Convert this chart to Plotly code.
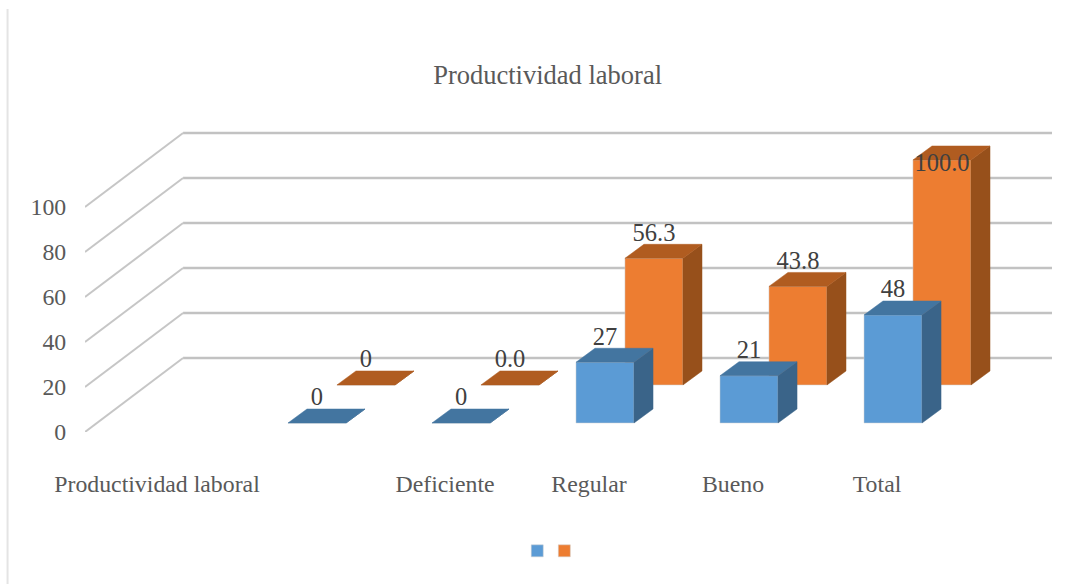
import plotly.graph_objects as go

title = "Productividad laboral"
categories = ["Productividad laboral", "", "Deficiente", "Regular", "Bueno", "Total"]
blue_values = [None, 0, 0, 27, 21, 48]
orange_values = [None, 0, 0, 56.3, 43.8, 100.0]
blue_labels = ["", "0", "0", "27", "21", "48"]
orange_labels = ["", "0", "0.0", "56.3", "43.8", "100.0"]
y_ticks = [0, 20, 40, 60, 80, 100]

# oblique projection, in axis units (1 x unit = 144 px, 1 y unit = 2.25 px)
WALL_DX, WALL_DY = 0.681, 32.9
BAR_DX, BAR_DY = 0.132, 6.22
BAR_W = 0.403
LABEL_UP = 10.6
LABEL_MAX = 118.7
X_MAX = 6.715
Y_MAX = 147.56
FONT = "Liberation Serif"
GREY = "#595959"


def faces(values, shift, floor):
    xs, bases, vals = [], [], []
    sx, sy, tx, ty = [], [], [], []
    for i, v in enumerate(values):
        if v is None:
            continue
        left = i + shift - BAR_W / 2
        right = left + BAR_W
        top = floor + v
        xs.append(i + shift)
        bases.append(floor)
        vals.append(v)
        sx += [right, right + BAR_DX, right + BAR_DX, right, right, None]
        sy += [floor, floor + BAR_DY, top + BAR_DY, top, floor, None]
        tx += [left, left + BAR_DX, right + BAR_DX, right, left, None]
        ty += [top, top + BAR_DY, top + BAR_DY, top, top, None]
    return xs, bases, vals, sx, sy, tx, ty


def add_series(fig, values, labels, shift, floor, front, top_col, side_col, legend):
    xs, bases, vals, sx, sy, tx, ty = faces(values, shift, floor)
    fig.add_trace(go.Bar(x=xs, y=vals, base=bases, width=BAR_W, name=" ", legend=legend,
                         marker=dict(color=front, line=dict(color="#d0d0d0", width=0.5))))
    fig.add_trace(go.Scatter(x=sx, y=sy, mode="lines", fill="toself", fillcolor=side_col,
                             line=dict(color=side_col, width=0.5), showlegend=False, hoverinfo="skip"))
    fig.add_trace(go.Scatter(x=tx, y=ty, mode="lines", fill="toself", fillcolor=top_col,
                             line=dict(color=top_col, width=0.5), showlegend=False, hoverinfo="skip"))
    label_y = [min(b + v + LABEL_UP, LABEL_MAX) for b, v in zip(bases, vals)]
    return xs, label_y, [t for t in labels if t]


fig = go.Figure()
blue_floor = 4
orange_floor = 20.9
ox, oy, ot = add_series(fig, orange_values, orange_labels, 0.951, orange_floor,
                        "#ED7D31", "#B05C20", "#97501B", "legend2")
bx, by, bt = add_series(fig, blue_values, blue_labels, 0.611, blue_floor,
                        "#5B9BD5", "#4375A0", "#3A6489", "legend")

fig.add_trace(go.Scatter(x=ox + bx, y=oy + by, text=ot + bt, mode="text", showlegend=False,
                         textfont=dict(family=FONT, size=24.5, color="#404040"),
                         textposition="middle center", hoverinfo="skip"))

# walls: side wall up to the back, then along the back
for t in y_ticks:
    fig.add_shape(type="line", layer="below", xref="x", yref="y", x0=0, y0=t,
                  x1=WALL_DX, y1=t + WALL_DY, line=dict(color="#c6c6c6", width=2))
    fig.add_shape(type="line", layer="below", xref="x", yref="y", x0=WALL_DX, y0=t + WALL_DY,
                  x1=X_MAX, y1=t + WALL_DY, line=dict(color="#c2c2c2", width=2.5))

# left edge of the pasted chart frame
fig.add_shape(type="line", xref="paper", yref="paper", x0=-0.0801, x1=-0.0801, y0=-0.458, y1=1.274,
              line=dict(color="#e4e4e4", width=2))

legend_style = dict(yanchor="middle", y=-0.358, xanchor="left", bgcolor="rgba(0,0,0,0)",
                    font=dict(family=FONT, size=12), itemwidth=30)
fig.update_layout(
    width=1078, height=584,
    margin=dict(l=85, r=26, t=100, b=152),
    paper_bgcolor="white", plot_bgcolor="white",
    barmode="overlay",
    title=dict(text=title, x=0.508, xanchor="center", y=0.872, yanchor="middle",
               font=dict(family=FONT, size=26.5, color=GREY)),
    legend=dict(x=0.447, **legend_style),
    legend2=dict(x=0.475, **legend_style),
    font=dict(family=FONT, color=GREY),
)
fig.update_xaxes(range=[0, X_MAX], tickmode="array", tickvals=[i + 0.5 for i in range(len(categories))],
                 ticktext=categories, ticks="outside", ticklen=30, tickcolor="rgba(0,0,0,0)",
                 showgrid=False, zeroline=False, showline=False,
                 tickfont=dict(family=FONT, size=23.8, color=GREY))
fig.update_yaxes(range=[0, Y_MAX], tickmode="array", tickvals=y_ticks, ticks="outside", ticklen=13,
                 tickcolor="rgba(0,0,0,0)", showgrid=False, zeroline=False, showline=False,
                 tickfont=dict(family=FONT, size=23.8, color=GREY))

# the page margin would push the figure 8 px off the frame
fig.write_html("out.html", post_script="document.body.style.margin='0';",
               config={"displayModeBar": False})
